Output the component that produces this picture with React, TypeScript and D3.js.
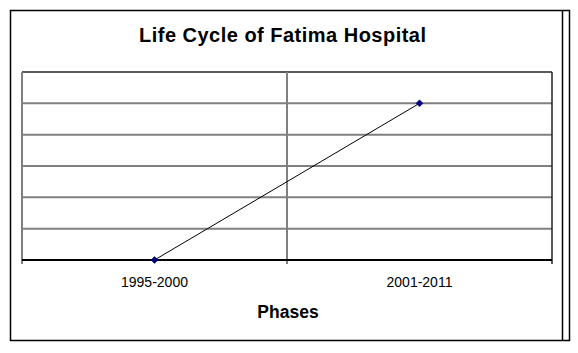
import React from "react";
import * as d3 from "d3";

const categories: string[] = ["1995-2000", "2001-2011"];
const values: number[] = [0, 5];
const yTicks: number[] = [0, 1, 2, 3, 4, 5, 6];
const title = "Life Cycle of Fatima Hospital";
const xTitle = "Phases";

export default function App() {
  const W = 578, H = 353;
  const left = 22, right = 552, top = 72, bottom = 260;
  const x = d3.scaleBand<string>().domain(categories).range([left, right]);
  const y = d3.scaleLinear().domain([0, 6]).range([bottom, top]);
  const line = d3
    .line<number>()
    .x((_, i) => (x(categories[i]) as number) + x.bandwidth() / 2)
    .y((d) => y(d));
  const diamond = d3.symbol().type(d3.symbolSquare).size(24)();
  const font = "Arial, 'Liberation Sans', sans-serif";
  const boundaries = [left, ...categories.map((c) => (x(c) as number) + x.bandwidth())];

  return (
    <svg
      width={W}
      height={H}
      style={{ position: "absolute", left: 0, top: 0, background: "#fff" }}
      fontFamily={font}
    >
      <rect x={0} y={0} width={W} height={H} fill="#fff" />
      {/* outer frame */}
      <path d="M10.5,10.5 H569.5 V340.5 H10.5 Z" fill="none" stroke="#000" strokeWidth={1.5} />
      <line x1={562.5} x2={562.5} y1={10.5} y2={340.5} stroke="#000" strokeWidth={1.5} />
      {/* title */}
      <text
        x={282.5}
        y={42}
        textAnchor="middle"
        fontSize={20}
        fontWeight="bold"
        fill="#000"
        textLength={287}
        lengthAdjust="spacing"
      >
        {title}
      </text>
      {/* gridlines */}
      {yTicks
        .filter((t) => t > 0 && t < 6)
        .map((t) => (
          <line key={t} x1={left} x2={right} y1={y(t)} y2={y(t)} stroke="#808080" strokeWidth={2} />
        ))}
      {/* plot border */}
      <line x1={left} x2={right} y1={y(6)} y2={y(6)} stroke="#222" strokeWidth={1.5} />
      <line x1={right} x2={right} y1={top} y2={bottom + 4} stroke="#222" strokeWidth={1.5} />
      {/* category separators / ticks */}
      {boundaries.slice(0, -1).map((b, i) => (
        <line key={i} x1={b} x2={b} y1={top} y2={bottom + 4} stroke="#808080" strokeWidth={2} />
      ))}
      {/* x axis */}
      <line x1={left} x2={right} y1={y(0)} y2={y(0)} stroke="#000" strokeWidth={2} />
      {/* series */}
      <path d={line(values) || ""} fill="none" stroke="#000" strokeWidth={1} />
      {values.map((v, i) => (
        <path
          key={i}
          d={diamond || ""}
          transform={`translate(${(x(categories[i]) as number) + x.bandwidth() / 2},${y(v)}) rotate(45)`}
          fill="#000080"
          stroke="#000080"
          strokeWidth={0.5}
        />
      ))}
      {/* tick labels */}
      {categories.map((c) => (
        <text
          key={c}
          x={(x(c) as number) + x.bandwidth() / 2}
          y={287}
          textAnchor="middle"
          fontSize={14}
          fill="#000"
        >
          {c}
        </text>
      ))}
      <text x={288} y={318} textAnchor="middle" fontSize={17.5} fontWeight="bold" fill="#000">
        {xTitle}
      </text>
    </svg>
  );
}
